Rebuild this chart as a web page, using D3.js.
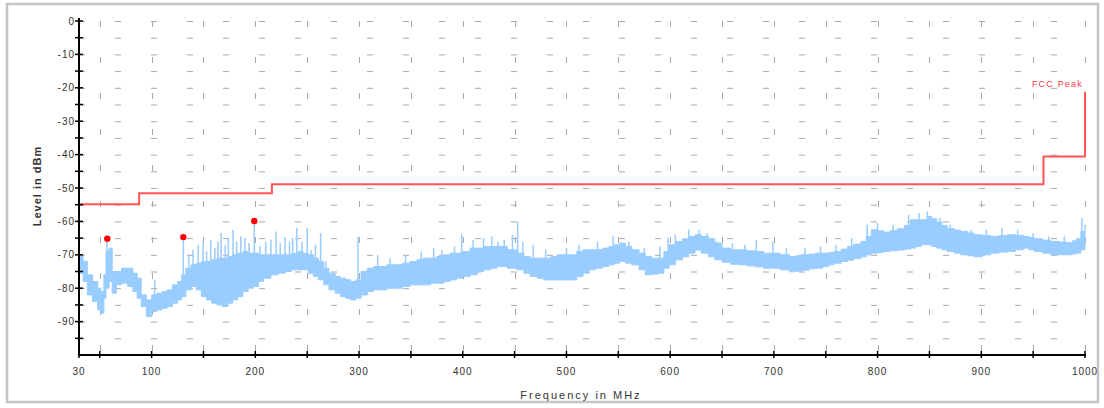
<!DOCTYPE html>
<html><head><meta charset="utf-8">
<script src="https://cdn.jsdelivr.net/npm/d3@7/dist/d3.min.js"></script>
<style>
html,body{margin:0;padding:0;background:#fff;}
svg{display:block;font-family:Arial,"Liberation Sans",sans-serif;}
</style></head>
<body>
<svg id="chart" width="1104" height="408"></svg>
<script>
// ---------- data ----------
const xTicksMajor = [30,100,200,300,400,500,600,700,800,900,1000];
const xTicksMinor = [50,150,250,350,450,550,650,750,850,950];
const yTicksMajor = [0,-10,-20,-30,-40,-50,-60,-70,-80,-90];
const yTicksMinor = [-5,-15,-25,-35,-45,-55,-65,-75,-85,-95];

// FCC Peak limit line (MHz, dBm)
const limitFreq  = [30, 88, 88, 216, 216, 960, 960, 1000, 1000];
const limitLevel = [-54.9, -54.9, -51.6, -51.6, -48.9, -48.9, -40.6, -40.6, -21.2];

// Measured trace envelope (MHz, top dBm, bottom dBm)
const bandFreq = [30,34,38,43,48,51,54,56,59,62,66,71,77,82,86,90,95,100,105,110,115,120,125,129,133,138,143,148,153,158,163,168,173,178,183,188,193,198,203,208,215,222,229,235,241,246,251,256,261,266,271,277,282,287,292,297,302,308,314,320,327,335,342,349,356,362,369,375,382,388,394,400,407,414,420,427,433,443,452,459,465,472,478,485,491,497,504,510,516,522,528,535,541,546,551,557,563,570,576,582,588,594,599,605,612,618,624,630,637,643,650,658,666,674,682,690,698,706,715,721,727,734,740,747,753,758,765,771,777,784,789,794,800,806,812,819,826,832,837,842,848,852,857,862,867,874,880,887,893,901,909,917,925,933,941,946,951,959,967,975,983,988,992,996,1000];
const bandHigh = [-70.5,-72,-76,-78,-80,-81,-76,-69,-68,-75,-75,-74,-74,-75.5,-77,-82,-83.5,-82,-81.5,-81,-80.5,-79,-78,-76,-74,-73,-72.5,-72,-72,-71.5,-71,-71,-70.5,-70,-69.5,-69,-69.5,-69.5,-70,-70,-70,-70,-70,-69.5,-69,-69.5,-70,-71,-72,-74,-75.5,-76.5,-77,-77.5,-78,-77.5,-75,-74,-73.5,-73.5,-73,-73,-72.5,-72,-71.5,-71,-71,-70.5,-70,-69.5,-69.5,-69,-68,-68,-67.5,-67.5,-67.5,-68.5,-69.5,-70.5,-71,-71,-71,-70.5,-70,-70,-70,-69,-68.5,-68.5,-68.5,-68,-67.5,-67,-66.5,-67.5,-68.5,-69.5,-70.5,-71,-71,-69,-67,-66,-65.2,-64.5,-64,-64.5,-65.2,-66.5,-68,-68.5,-68.5,-68.8,-69,-69.5,-69.5,-70,-70.5,-70.3,-70,-69.8,-69.5,-69.5,-69.3,-69,-68.3,-67.5,-66.8,-66,-64.5,-62.5,-62.8,-63.2,-62.8,-62.2,-61.2,-59.5,-59.5,-59.5,-58.5,-59.2,-60.2,-61.2,-62.2,-62.6,-63,-63.5,-64,-64.2,-64.5,-64.3,-64,-64.2,-64.5,-64.8,-65.2,-65.6,-66,-66.2,-66.4,-65.8,-65.2,-63,-61];
const bandLow  = [-75.5,-78,-82,-84,-86.5,-87.5,-83,-80,-78,-81.5,-79,-78.5,-79.5,-81,-83,-85.5,-88.5,-87,-86.5,-86,-85.5,-84.5,-83.5,-82.5,-80.5,-79.5,-80.5,-82.5,-83.5,-84.5,-85,-85.5,-84.5,-83.5,-82.5,-81,-80,-79.5,-78,-77,-76,-75.5,-75,-74.5,-74.5,-74.5,-75.5,-76.5,-77.5,-79,-80.5,-81.5,-82.5,-83,-83.5,-83,-82,-81,-80.5,-80.5,-80,-80,-79.5,-79,-79,-79,-78.5,-78.5,-78,-77.5,-77,-76.5,-76,-75,-74.5,-74,-73.5,-74,-74.5,-75.5,-76.5,-77,-77.5,-77.5,-77.5,-77.5,-77.5,-76.5,-75.5,-74.5,-74,-73.5,-73,-72.5,-72,-72.5,-73,-74.5,-76,-75.8,-75.5,-74,-73,-71.5,-70.6,-69.5,-68.6,-69.5,-70.6,-71.5,-72.2,-72.8,-73,-73.3,-73.6,-74,-74,-74.5,-75.1,-74.9,-74.6,-74.2,-74,-73.5,-73,-72.5,-72,-71.6,-71.1,-70.6,-70,-69.5,-69.3,-69,-68.8,-68.6,-68.3,-68,-67.5,-67,-67,-67.5,-68,-68.5,-69,-69.5,-70,-70.3,-70.6,-70,-69.5,-69.2,-69,-68.5,-68,-68.5,-69,-69.5,-70,-70,-70,-69.7,-69.5,-68.5,-67];

// Narrow spikes above the envelope (MHz, peak dBm)
const spikeFreq  = [57,103,130.6,136,140,145,149.6,153,157,161,164,167,171,174,178.5,182,186,190,194,199,204.5,210,215,220,224,228.6,233,236,240,245,250,253.7,258,263,268,299,318,330,345,360,372,380,392,399,410,420,428,434,440,448,453,458,468,480,500,512,530,545,560,575,590,598,605,618,628,635.6,645,660,672,683,699,712,730,745,760,775,790,800,815,830,840,848,860,870,890,905,920,935,950,965,980,997];
const spikeLevel = [-65,-77.5,-64.7,-70,-68.6,-67,-66,-69,-65.6,-68,-66,-63.5,-67,-65,-62.6,-66,-64.5,-65,-66.5,-59.9,-67.4,-66,-65.5,-63,-66.5,-64.7,-66,-65,-62,-66,-62,-68.6,-67,-63.5,-72,-64.7,-70,-71,-70,-69,-68,-68.5,-67.5,-63.8,-65.5,-65,-64.5,-66,-65.5,-64,-60.2,-66,-67,-68.5,-68,-67,-66,-64.5,-66,-68,-67.5,-65,-64,-62.5,-62.5,-63.5,-66,-66.5,-67,-65.6,-66,-68,-68,-67.5,-67,-65,-61,-60.5,-61,-58,-57.5,-57,-59,-61,-62.5,-62.5,-62,-62.5,-63.5,-64.5,-64.5,-59];

// Peak markers (MHz, dBm)
const markerFreq  = [57.3, 130.6, 199];
const markerLevel = [-65.2, -64.7, -59.9];

// ---------- drawing ----------
const svg = d3.select("#chart");
const x = d3.scaleLinear().domain([30,1000]).range([79,1085]);
const y = d3.scaleLinear().domain([-100,0]).range([355,21]);

// frame
svg.append("rect").attr("x",7).attr("y",4).attr("width",1091).attr("height",398)
  .attr("fill","#fff").attr("stroke","#c4c4c4").attr("stroke-width",2.5);

// grid
const grid = svg.append("g").attr("stroke","#a8a8a8").attr("stroke-width",1).attr("stroke-dasharray","6,30");
grid.selectAll("line.h").data(yTicksMajor.concat(yTicksMinor)).join("line")
  .attr("x1",x(30)).attr("x2",x(1000)).attr("y1",d=>y(d)+0.5).attr("y2",d=>y(d)+0.5);
grid.selectAll("line.v").data(xTicksMinor.concat(xTicksMajor.filter(d=>d!==30))).join("line")
  .attr("class","v")
  .attr("x1",d=>Math.round(x(d))+0.5).attr("x2",d=>Math.round(x(d))+0.5).attr("y1",y(0)).attr("y2",y(-100));

// trace envelope
const band = bandFreq.map((f,i)=>({f, hi:bandHigh[i], lo:bandLow[i]}));
svg.append("path").datum(band)
  .attr("fill","#99ccff").attr("stroke","#99ccff").attr("stroke-width",1)
  .attr("d", d3.area().curve(d3.curveStepAfter).x(d=>x(d.f)).y0(d=>y(d.lo)).y1(d=>y(d.hi)));

// spikes
const idxAt = f => { let i = d3.bisectRight(bandFreq, f) - 1; return Math.max(0, Math.min(i, bandFreq.length-1)); };
svg.append("g").selectAll("line").data(spikeFreq).join("line")
  .attr("x1",d=>x(d)).attr("x2",d=>x(d))
  .attr("y1",d=>{const i=idxAt(d); return y((bandHigh[i]+bandLow[i])/2);}).attr("y2",(d,i)=>y(spikeLevel[i]))
  .attr("stroke","#99ccff").attr("stroke-width",1.5);

// limit line
svg.append("path").datum(limitFreq.map((f,i)=>[f,limitLevel[i]]))
  .attr("fill","none").attr("stroke","#ff5555").attr("stroke-width",2)
  .attr("d", d3.line().x(d=>x(d[0])).y(d=>y(d[1])));
svg.append("text").attr("x",1083).attr("y",87).attr("text-anchor","end")
  .attr("font-size",9).attr("letter-spacing","1.2px").attr("fill","#ff3b3b").text("FCC Peak");

// markers
svg.append("g").selectAll("circle").data(markerFreq).join("circle")
  .attr("cx",d=>x(d)).attr("cy",(d,i)=>y(markerLevel[i])).attr("r",3.2).attr("fill","#ff0000");

// axes
const ax = svg.append("g").attr("stroke","#000");
ax.append("line").attr("x1",x(30)).attr("x2",x(30)).attr("y1",18).attr("y2",y(-100)+1).attr("stroke-width",2);
ax.append("line").attr("x1",x(30)-1).attr("x2",x(1000)+1).attr("y1",y(-100)).attr("y2",y(-100)).attr("stroke-width",2);
ax.selectAll("line.yt").data(yTicksMajor.concat(yTicksMinor)).join("line").attr("class","yt")
  .attr("x1",x(30)-4).attr("x2",x(30)+4).attr("y1",d=>y(d)).attr("y2",d=>y(d)).attr("stroke-width",1.5);
ax.selectAll("line.xt").data(xTicksMajor.concat(xTicksMinor)).join("line").attr("class","xt")
  .attr("x1",d=>x(d)).attr("x2",d=>x(d)).attr("y1",y(-100)-4).attr("y2",y(-100)+3).attr("stroke-width",1.5);

// tick labels
svg.append("g").selectAll("text").data(yTicksMajor).join("text")
  .attr("x",75).attr("y",d=>y(d)+3.5).attr("text-anchor","end")
  .attr("font-size",10).attr("letter-spacing","1px").attr("fill","#333").text(d=>d);
svg.append("g").selectAll("text").data(xTicksMajor).join("text")
  .attr("x",d=>x(d)).attr("y",375).attr("text-anchor","middle")
  .attr("font-size",10).attr("letter-spacing","1px").attr("fill","#333").text(d=>d);

// axis titles
svg.append("text").attr("x",581).attr("y",399).attr("text-anchor","middle")
  .attr("font-size",11).attr("letter-spacing","2px").attr("fill","#333").text("Frequency in MHz");
svg.append("text").attr("transform","translate(41,186) rotate(-90)").attr("text-anchor","middle")
  .attr("font-size",11).attr("font-weight","bold").attr("letter-spacing","1px").attr("fill","#333").text("Level in dBm");
</script>
</body></html>
